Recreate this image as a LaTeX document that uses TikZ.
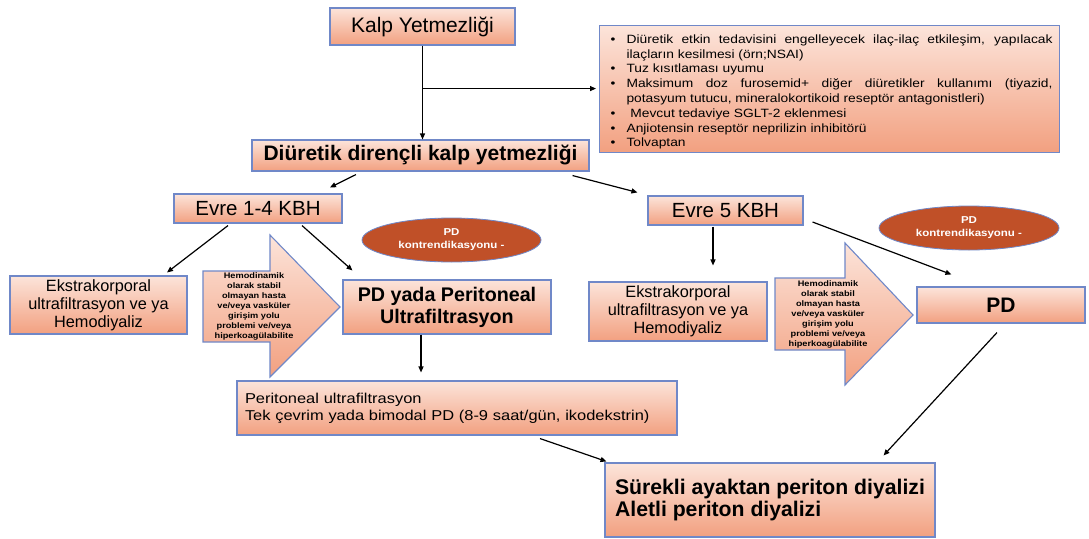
\documentclass[tikz,border=0pt]{standalone}
\usepackage{fontspec}
\setmainfont{Liberation Sans}
\newfontfamily\wf[FakeStretch=1.15]{Liberation Sans}
\usetikzlibrary{arrows.meta,calc,shapes.geometric}
\definecolor{bord}{RGB}{112,136,200}
\definecolor{ptop}{RGB}{252,228,218}
\definecolor{pbot}{RGB}{242,160,128}
\definecolor{ellf}{RGB}{192,80,40}
\newcommand\bitem[1]{\par\noindent\hangindent=20pt\hangafter=1\makebox[20pt][l]{\hspace{4pt}\textbullet}#1\par}
\begin{document}
\begin{tikzpicture}[x=1pt,y=-1pt,
  box/.style={draw=bord,line width=1.1pt,top color=ptop,bottom color=pbot,inner sep=2pt,align=center,text=black},
  barrow/.style={draw=bord,line width=1.1pt,top color=ptop,bottom color=pbot},
  arr/.style={-{Triangle[length=6pt,width=5pt]},line width=1.2pt,black},
  ell/.style={ellipse,draw=bord,line width=0.8pt,fill=ellf,text=white,align=center,inner sep=0pt,
    font=\wf\bfseries\fontsize{10}{13}\selectfont},
  big/.style={font=\fontsize{20.5}{23}\selectfont},
  bigb/.style={font=\bfseries\fontsize{21}{23}\selectfont},
  hatext/.style={align=center,font=\wf\bfseries\fontsize{8}{10}\selectfont,inner sep=0pt}]
\useasboundingbox[fill=white] (0,0) rectangle (1089,538);

% nodes
\node[box,font=\fontsize{21}{23}\selectfont,minimum width=185pt,minimum height=37pt] (kalp) at (422.5,26.5) {Kalp Yetmezliği};
\node[box,anchor=north west,text width=446pt,inner xsep=7pt,inner ysep=3pt,minimum height=119pt,align=justify] (bullets) at (599,25)
 {\wf\fontsize{12}{14.8}\selectfont\hyphenpenalty=10000\exhyphenpenalty=10000
  \bitem{Diüretik etkin tedavisini engelleyecek ilaç-ilaç etkileşim, yapılacak\linebreak ilaçların kesilmesi (örn;NSAI)}
  \bitem{Tuz kısıtlaması uyumu}
  \bitem{Maksimum doz furosemid+ diğer diüretikler kullanımı (tiyazid,\linebreak potasyum tutucu, mineralokortikoid reseptör antagonistleri)}
  \bitem{\ Mevcut tedaviye SGLT-2 eklenmesi}
  \bitem{Anjiotensin reseptör neprilizin inhibitörü}
  \bitem{Tolvaptan}};
\node[box,bigb,minimum width=337pt,minimum height=31pt] (diur) at (420.5,155.5) {Diüretik dirençli kalp yetmezliği};
\node[box,big,minimum width=168pt,minimum height=29pt] (evre14) at (258,208.5) {Evre 1-4 KBH};
\node[box,big,minimum width=155pt,minimum height=29pt] (evre5) at (725.5,210.5) {Evre 5 KBH};
\node[ell,minimum width=179pt,minimum height=44pt] (ell1) at (451.5,240) {PD\\kontrendikasyonu -};
\node[ell,minimum width=180pt,minimum height=44pt] (ell2) at (969,228) {PD\\kontrendikasyonu -};
\node[box,font=\fontsize{16.3}{18}\selectfont,minimum width=177pt,minimum height=58pt] (ekstra1) at (98.5,305)
  {Ekstrakorporal\\ultrafiltrasyon ve ya\\Hemodiyaliz};
\node[box,font=\fontsize{16.3}{18}\selectfont,minimum width=178pt,minimum height=59pt] (ekstra2) at (678,311.5)
  {Ekstrakorporal\\ultrafiltrasyon ve ya\\Hemodiyaliz};
\node[box,font=\bfseries\fontsize{19.7}{22}\selectfont,minimum width=208pt,minimum height=54pt] (pdyada) at (447,307)
  {PD yada Peritoneal\\Ultrafiltrasyon};
\node[box,align=left,text width=424pt,inner xsep=8pt,minimum height=54pt,font=\wf\fontsize{14.3}{17}\selectfont] (perit) at (457,408)
  {Peritoneal ultrafiltrasyon\\Tek çevrim yada bimodal PD (8-9 saat/gün, ikodekstrin)};
\node[box,bigb,minimum width=168pt,minimum height=36pt] (pd) at (1001,305) {PD};
\node[box,align=left,font=\bfseries\fontsize{21.2}{22}\selectfont,minimum width=330pt,minimum height=74pt] (surekli) at (770,500)
  {Sürekli ayaktan periton diyalizi\\Aletli periton diyalizi};

% block arrows
\path[barrow] (203,271) -- (270,271) -- (270,235) -- (340,307) -- (270,377) -- (270,342) -- (203,342) -- cycle;
\node[hatext] (ha1) at (254,306) {Hemodinamik\\olarak stabil\\olmayan hasta\\ve/veya vasküler\\girişim yolu\\problemi ve/veya\\hiperkoagülabilite};
\path[barrow] (775,278) -- (845,278) -- (845,243) -- (913,315) -- (845,385) -- (845,350) -- (775,350) -- cycle;
\node[hatext] (ha2) at (828,314.5) {Hemodinamik\\olarak stabil\\olmayan hasta\\ve/veya vasküler\\girişim yolu\\problemi ve/veya\\hiperkoagülabilite};

% connectors
\draw[arr] (kalp.south) -- (kalp.south |- diur.north);
\coordinate (br) at ($(kalp.south)+(0,43)$);
\draw[arr] (br) -- ($(br -| bullets.west)+(-3,0)$);
\draw[arr] ($(diur.south)+(-64.5,3)$) -- ($(evre14.north)+(72,-6)$);
\draw[arr] ($(diur.south east)+(-17,4)$) -- ($(evre5.north west)+(-10,-3)$);
\draw[arr] ($(evre14.south)+(-30,2)$) -- ($(ekstra1.north)+(68.5,-3)$);
\draw[arr] ($(evre14.south)+(44,2)$) -- ($(pdyada.north west)+(10,-9)$);
\draw[arr] ($(pdyada.south)+(-26,0)$) -- ($(pdyada.south |- perit.north)+(-26,-8)$);
\draw[arr] ($(evre5.south)+(-12.5,1)$) -- ($(evre5.south |- ekstra2.north)+(-12.5,-16)$);
\draw[arr] ($(evre5.east)+(9,11.5)$) -- ($(pd.north west)+(35,-12)$);
\draw[arr] ($(perit.south)+(83,3)$) -- ($(surekli.north west)+(2,-1)$);
\draw[arr] ($(pd.south)+(-4,9)$) -- ($(surekli.north east)+(-52,-7)$);
\end{tikzpicture}
\end{document}
